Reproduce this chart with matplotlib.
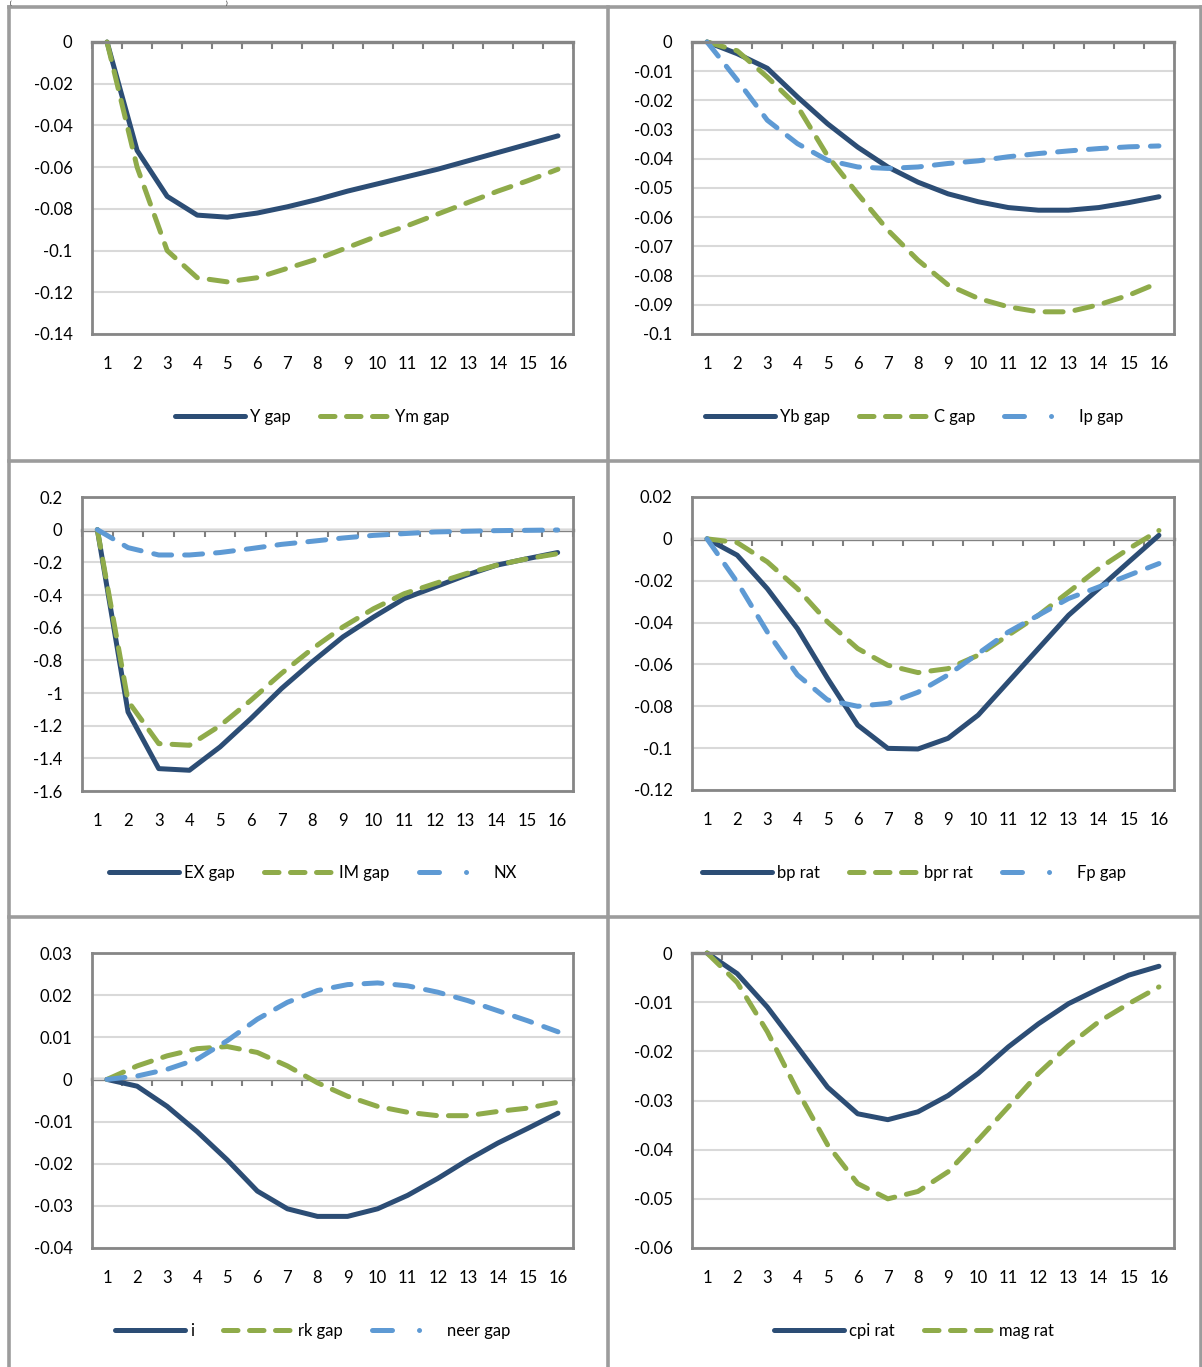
import numpy as np
import matplotlib
matplotlib.use('Agg')
import matplotlib.pyplot as plt
from matplotlib.lines import Line2D
from matplotlib.ticker import FuncFormatter

plt.rcParams['font.family'] = ['Lato', 'DejaVu Sans']
plt.rcParams['font.size'] = 12

# periods 1..16
periods = list(range(1, 17))

# panel 1
y_gap = [0, -0.052, -0.074, -0.083, -0.084, -0.082, -0.079, -0.0755, -0.0715, -0.068,
         -0.0645, -0.061, -0.057, -0.053, -0.049, -0.045]
ym_gap = [0, -0.06, -0.1, -0.113, -0.115, -0.113, -0.1085, -0.104, -0.0985, -0.093,
          -0.088, -0.0825, -0.077, -0.0715, -0.0665, -0.061]
# panel 2
yb_gap = [0, -0.004, -0.009, -0.0188, -0.028, -0.036, -0.0428, -0.048, -0.052, -0.0547,
          -0.0567, -0.0576, -0.0576, -0.0567, -0.055, -0.053]
c_gap = [0, -0.003, -0.012, -0.022, -0.039, -0.052, -0.0644, -0.0747, -0.0832, -0.0878,
         -0.0907, -0.0924, -0.0924, -0.090, -0.0867, -0.0824]
ip_gap = [0, -0.013, -0.0268, -0.0348, -0.0405, -0.0428, -0.0433, -0.0428, -0.0416, -0.0407,
          -0.0393, -0.0382, -0.0373, -0.0365, -0.0359, -0.0356]
# panel 3
ex_gap = [0, -1.116, -1.463, -1.473, -1.33, -1.157, -0.973, -0.81, -0.657, -0.535,
          -0.422, -0.351, -0.28, -0.218, -0.178, -0.14]
im_gap = [0, -1.05, -1.31, -1.32, -1.2, -1.045, -0.88, -0.73, -0.596, -0.484,
          -0.392, -0.33, -0.27, -0.218, -0.178, -0.147]
nx = [0, -0.11, -0.155, -0.155, -0.14, -0.116, -0.09, -0.071, -0.051, -0.035,
      -0.024, -0.014, -0.01, -0.006, -0.004, -0.002]
# panel 4
bp_rat = [0, -0.0078, -0.0238, -0.0429, -0.0667, -0.089, -0.1001, -0.1004, -0.0953, -0.0842,
          -0.0683, -0.0524, -0.0365, -0.0238, -0.011, 0.0017]
bpr_rat = [0, -0.0018, -0.011, -0.0238, -0.0397, -0.0524, -0.0604, -0.0639, -0.062, -0.0556,
           -0.046, -0.0365, -0.0254, -0.0142, -0.0047, 0.004]
fp_gap = [0, -0.0207, -0.0445, -0.065, -0.077, -0.080, -0.0786, -0.0733, -0.065, -0.0548,
          -0.0445, -0.0365, -0.0285, -0.023, -0.0174, -0.0118]
# panel 5
i_rate = [0, -0.0016, -0.0064, -0.0124, -0.0191, -0.0265, -0.0307, -0.0325, -0.0325, -0.0307,
          -0.0275, -0.0235, -0.0191, -0.0151, -0.0116, -0.008]
rk_gap = [0, 0.0032, 0.0056, 0.0073, 0.0078, 0.0064, 0.0032, -0.0008, -0.004, -0.0064,
          -0.0078, -0.0086, -0.0086, -0.0076, -0.0068, -0.0054]
neer_gap = [0, 0.0008, 0.0024, 0.0048, 0.0092, 0.0143, 0.0183, 0.0211, 0.0225, 0.0229,
            0.0222, 0.0207, 0.0187, 0.0163, 0.0139, 0.0113]
# panel 6
cpi_rat = [0, -0.0042, -0.011, -0.0191, -0.0273, -0.0327, -0.0339, -0.0323, -0.029, -0.0245,
           -0.0191, -0.0144, -0.0103, -0.0073, -0.0045, -0.0027]
mag_rat = [0, -0.006, -0.016, -0.028, -0.039, -0.0469, -0.050, -0.0485, -0.0445, -0.038,
           -0.0313, -0.0245, -0.0188, -0.014, -0.0103, -0.0069]

NAVY = '#2C4D75'
GREEN = '#8FAB4A'
BLUE = '#5E9AD4'
LW = 3.6

styles = {
    'solid': dict(color=NAVY, ls='-'),
    'dash': dict(color=GREEN, ls=(0, (3.6, 2.4))),
    'dashdot': dict(color=BLUE, ls=(0, (3.6, 2.6))),
}
legend_styles = {
    'solid': dict(color=NAVY, ls='-'),
    'dash': dict(color=GREEN, ls=(0, (2.9, 2.3))),
    'dashdot': dict(color=BLUE, ls=(0, (4.0, 5.4, 0.01, 10))),
}

panels = [
    dict(box=(92, 573, 42, 334), leg=(312, 417), ylim=(-0.14, 0), step=0.02,
         series=[('Y gap', y_gap, 'solid'), ('Ym gap', ym_gap, 'dash')]),
    dict(box=(692, 1174, 42, 334), leg=(914, 417), ylim=(-0.1, 0), step=0.01,
         series=[('Yb gap', yb_gap, 'solid'), ('C gap', c_gap, 'dash'), ('Ip gap', ip_gap, 'dashdot')]),
    dict(box=(82, 573, 497, 791), leg=(313, 873), ylim=(-1.6, 0.2), step=0.2,
         series=[('EX gap', ex_gap, 'solid'), ('IM gap', im_gap, 'dash'), ('NX', nx, 'dashdot')]),
    dict(box=(692, 1174, 497, 790), leg=(914, 873), ylim=(-0.12, 0.02), step=0.02,
         series=[('bp rat', bp_rat, 'solid'), ('bpr rat', bpr_rat, 'dash'), ('Fp gap', fp_gap, 'dashdot')]),
    dict(box=(92, 573, 953, 1248), leg=(313, 1331), ylim=(-0.04, 0.03), step=0.01,
         series=[('i', i_rate, 'solid'), ('rk gap', rk_gap, 'dash'), ('neer gap', neer_gap, 'dashdot')]),
    dict(box=(692, 1174, 953, 1248), leg=(914, 1331), ylim=(-0.06, 0), step=0.01,
         series=[('cpi rat', cpi_rat, 'solid'), ('mag rat', mag_rat, 'dash')]),
]

W, H = 1202, 1367
fig = plt.figure(figsize=(W / 100, H / 100), dpi=100)


def fmt(v, pos):
    v = round(v, 6)
    if v == 0:
        return '0'
    return f'{v:g}'


for p in panels:
    l, r, t, b = p['box']
    ax = fig.add_axes([l / W, 1 - b / H, (r - l) / W, (b - t) / H])
    lo, hi = p['ylim']
    for name, vals, st in p['series']:
        ax.plot(periods, vals, lw=LW, solid_capstyle='round', dash_capstyle='round',
                clip_on=False, **styles[st])
    ax.set_xlim(0.5, 16.5)
    ax.set_ylim(lo, hi)
    n = int(round((hi - lo) / p['step']))
    ax.set_yticks(np.linspace(lo, hi, n + 1))
    ax.yaxis.set_major_formatter(FuncFormatter(fmt))
    ax.set_xticks(periods)
    ax.set_xticklabels([str(v) for v in periods])
    ax.tick_params(axis='both', length=0, labelsize=12, colors='black')
    ax.tick_params(axis='x', pad=16)
    ax.tick_params(axis='y', pad=14)
    ax.yaxis.grid(True, color='#D9D9D9', lw=1.5)
    ax.set_axisbelow(True)
    for s in ax.spines.values():
        s.set_color('#868686')
        s.set_linewidth(2)

    # category axis crossing at zero
    zpos = (0 - lo) / (hi - lo)
    sec = ax.secondary_xaxis(zpos)
    sec.set_xticks(np.arange(0.5, 16.51, 1.0))
    sec.tick_params(axis='x', direction='in' if zpos >= 0.5 else 'out', length=5, width=1.5,
                    color='#7F7F7F', labeltop=False, labelbottom=False)
    for s in sec.spines.values():
        s.set_color('#7F7F7F')
        s.set_linewidth(2.4)

    handles = [Line2D([], [], lw=LW, solid_capstyle='round', dash_capstyle='round',
                      **legend_styles[st]) for name, vals, st in p['series']]
    labels = [name for name, vals, st in p['series']]
    cx, cy = p['leg']
    fig.legend(handles, labels, loc='center', bbox_to_anchor=(cx / W, 1 - cy / H),
               ncol=len(labels), frameon=False, fontsize=12, handlelength=4.2,
               handletextpad=0.3, columnspacing=1.75)

# table cell borders
line_kw = dict(transform=fig.transFigure, color='#9C9C9C', lw=2.6)
for yy in (6.5, 460.5, 916.5):
    fig.add_artist(Line2D([9 / W, 1201 / W], [1 - yy / H, 1 - yy / H], **line_kw))
for xx in (9, 608, 1200.5):
    fig.add_artist(Line2D([xx / W, xx / W], [1 - 6.5 / H, 0], **line_kw))

# caption brackets above the table (mostly hidden in the source)
fig.text(10 / W, 1 - 0.5 / H, '(', fontsize=4.5, va='top')
fig.text(226 / W, 1 - 0.5 / H, ')', fontsize=4.5, va='top')

fig.savefig('out.png', dpi=100)
